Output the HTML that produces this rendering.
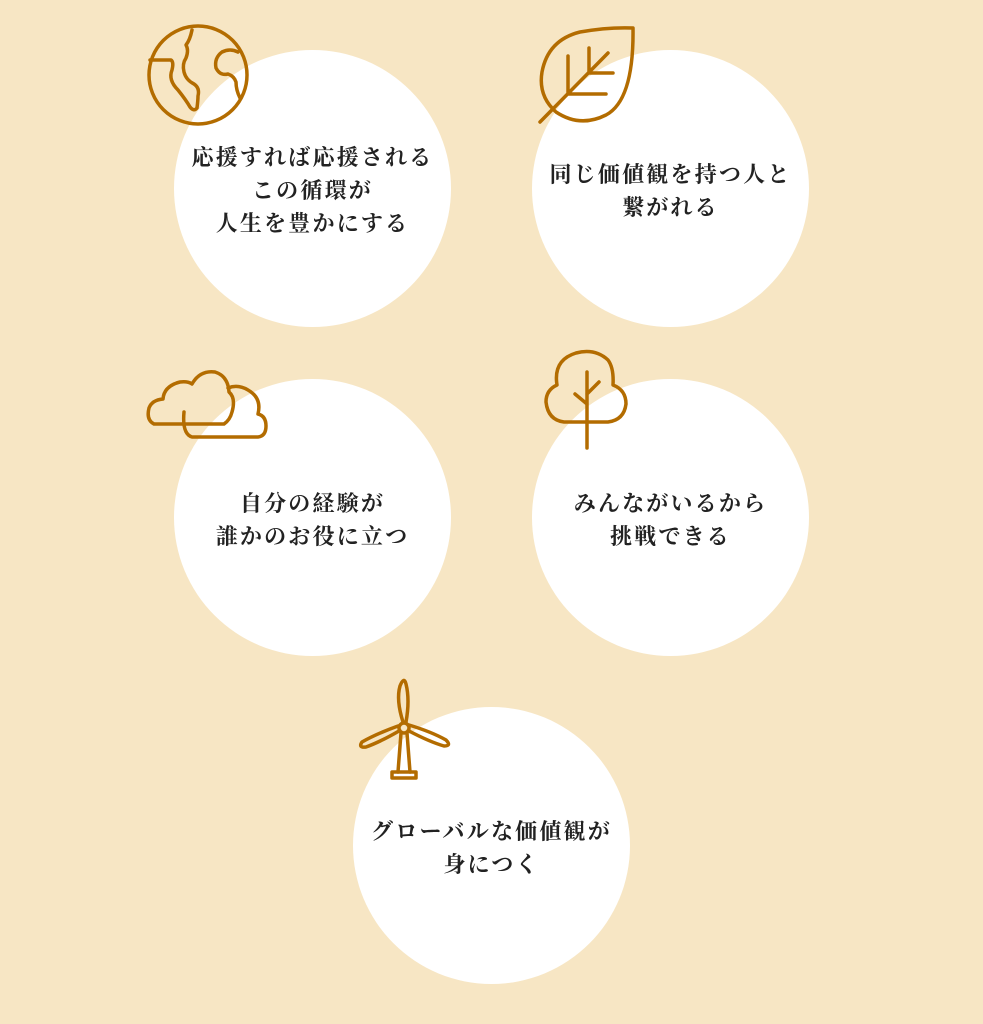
<!DOCTYPE html>
<html><head><meta charset="utf-8"><style>
html,body{margin:0;padding:0;}
body{width:983px;height:1024px;background:#f7e6c4;position:relative;overflow:hidden;}
.c{position:absolute;width:277px;height:277px;box-sizing:border-box;padding-top:4px;border-radius:50%;background:#fff;display:flex;align-items:center;justify-content:center;text-align:center;
font-family:"Liberation Serif","Noto Serif CJK SC",serif;font-weight:700;font-size:22px;letter-spacing:2.2px;line-height:33px;color:#222;}
svg{position:absolute;left:0;top:0;}
</style></head><body>
<div class="c" style="left:174px;top:50px;">応援すれば応援される<br>この循環が<br>人生を豊かにする</div>
<div class="c" style="left:532px;top:50px;">同じ価値観を持つ人と<br>繋がれる</div>
<div class="c" style="left:174px;top:379px;">自分の経験が<br>誰かのお役に立つ</div>
<div class="c" style="left:532px;top:379px;">みんながいるから<br>挑戦できる</div>
<div class="c" style="left:353px;top:707px;">グローバルな価値観が<br>身につく</div>
<svg width="983" height="1024" fill="none" stroke="#b36c00" stroke-width="3.5" stroke-linecap="round" stroke-linejoin="round">
<circle cx="198" cy="75" r="49"/>
<path d="M150 60 H171 Q174 62 172 70 Q168 80 178 90 Q186 100 190 107 Q194 112 197 108 Q198 100 198 96 Q200 88 194 84 Q186 80 184 72 Q182 64 186 58 Q189 50 186 45 Q190 40 192 30"/>
<path d="M238 52 Q230 48 222 52 Q214 58 216 68 Q220 76 228 74 Q234 76 236 82 Q236 90 240 98"/>
<path d="M633 28 Q634 100 606 115 Q580 128 556 112 Q538 96 542 72 Q548 40 580 32 Q608 27 633 28 Z"/>
<path d="M540 122 L608 53 M568 94 V56 M568 94 H606 M589 73 V48 M589 73 H613"/>
<path d="M154 424 Q146 420 149 408 Q152 400 163 399 Q164 386 180 382 Q188 381 192 384 Q200 370 215 372 Q228 376 229 392 Q236 398 232 412 Q230 420 224 424 Z"/>
<path d="M184 412 Q182 434 192 437 H258 Q266 436 266 426 Q266 416 258 414 Q262 398 248 390 Q238 384 228 388"/>
<path d="M564 422 Q548 420 546 402 Q546 390 557 385 Q553 360 576 353 Q595 348 608 360 Q614 368 613 385 Q626 390 626 404 Q624 420 608 422 Z"/>
<path d="M587 372 V448 M587 394 L599 382 M587 404 L575 394"/>
<circle cx="404" cy="728" r="5"/>
<path d="M403 722 Q396 700 400 686 Q404 676 406 684 Q410 700 406 722"/>
<path d="M399 731 Q380 742 366 747 Q358 748 362 742 Q376 734 398 726"/>
<path d="M409 731 Q430 742 444 746 Q452 746 446 740 Q432 732 409 725"/>
<path d="M401 733 L398 772 M407 733 L410 772"/>
<rect x="392" y="772" width="24" height="6"/>
</svg>
</body></html>
